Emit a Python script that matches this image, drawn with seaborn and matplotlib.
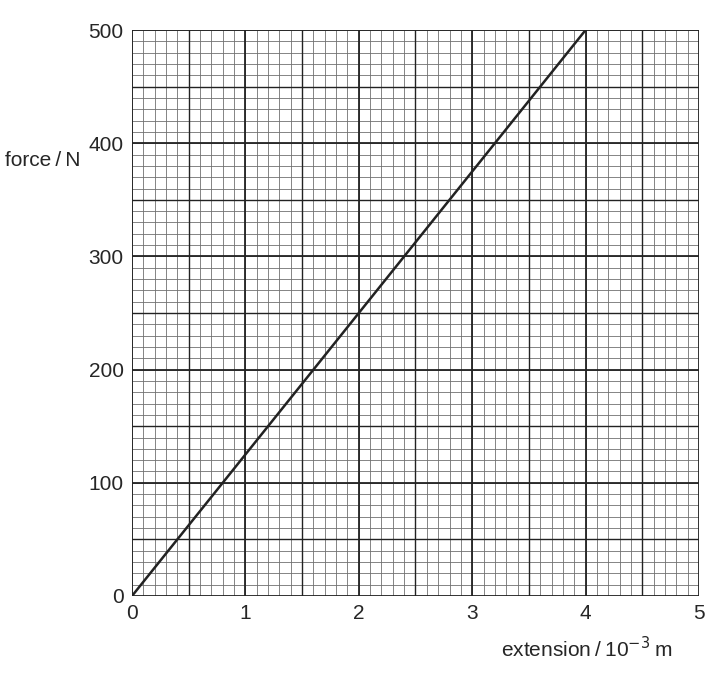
import matplotlib
matplotlib.use('Agg')
import matplotlib.pyplot as plt
import seaborn as sns
import numpy as np
import pandas as pd

# data
extension = [0, 4]
force = [0, 500]
x_ticks = [0, 1, 2, 3, 4, 5]
y_ticks = [0, 100, 200, 300, 400, 500]

sns.set_style("white")
plt.rcParams['font.family'] = ['Liberation Sans', 'DejaVu Sans']

df = pd.DataFrame({'extension': extension, 'force': force})

fig = plt.figure(figsize=(7.15, 6.91), dpi=100)
ax = fig.add_axes([0.1846, 0.1375, 0.793, 0.819])

# graph-paper grid: fine, half and major lines
for v in np.arange(0, 5.01, 0.1):
    ax.axvline(v, color='#707070', lw=0.6, zorder=1)
for v in np.arange(0, 500.1, 10):
    ax.axhline(v, color='#707070', lw=0.6, zorder=1)
for v in np.arange(0.5, 5, 1.0):
    ax.axvline(v, color='#222222', lw=1.0, zorder=2)
for v in np.arange(50, 500, 100):
    ax.axhline(v, color='#222222', lw=1.0, zorder=2)
for v in x_ticks:
    ax.axvline(v, color='#222222', lw=1.3, zorder=2)
for v in y_ticks:
    ax.axhline(v, color='#222222', lw=1.3, zorder=2)

sns.lineplot(data=df, x='extension', y='force', ax=ax, color='#222222', lw=1.8, zorder=3)

ax.set_xlim(0, 5)
ax.set_ylim(0, 500)
ax.set_xticks(x_ticks)
ax.set_yticks(y_ticks)
ax.set_xticklabels([str(t) for t in x_ticks], fontsize=15)
ax.set_yticklabels([str(t) for t in y_ticks], fontsize=15)
ax.tick_params(direction='out', length=5, width=1.3, color='#222222', pad=1)
for s in ax.spines.values():
    s.set_visible(False)
ax.set_xlabel('')
ax.set_ylabel('')

fig.text(0.007, 0.768, 'force\u2009/\u2009N', fontsize=15, ha='left', va='center')
fig.text(0.94, 0.062, 'extension\u2009/\u200910$^{\u22123}$\u2009m', fontsize=15, ha='right', va='center')

plt.savefig('out.png', dpi=100)
plt.close()
